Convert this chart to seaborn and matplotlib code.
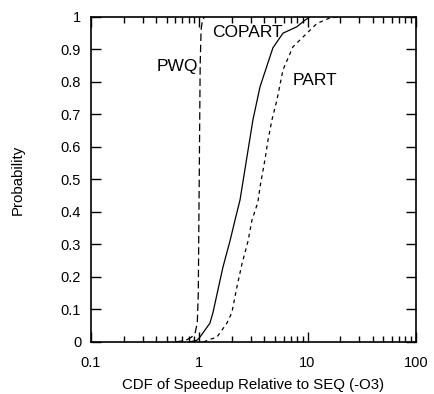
import matplotlib
matplotlib.use('Agg')
import matplotlib.pyplot as plt
import matplotlib.ticker as mticker
import seaborn as sns

# CDF points (speedup, cumulative probability)
pwq_x = [0.6, 0.75, 0.85, 0.92, 0.96, 0.98, 1.0, 1.02, 1.04, 1.07, 1.12]
pwq_p = [0.0, 0.005, 0.015, 0.03, 0.06, 0.15, 0.5, 0.85, 0.96, 0.99, 1.0]

copart_x = [0.8, 0.95, 1.015, 1.255, 1.338, 1.655, 1.92, 2.14, 2.38, 3.13, 3.64, 4.79, 5.93, 7.98, 9.46, 10.5]
copart_p = [0.0, 0.005, 0.015, 0.058, 0.09, 0.23, 0.31, 0.375, 0.437, 0.683, 0.785, 0.905, 0.95, 0.97, 0.99, 1.0]

part_x = [1.1, 1.203, 1.457, 1.80, 2.0, 2.23, 2.48, 2.82, 3.07, 3.48, 3.64, 4.04, 4.31, 4.69, 5.22, 5.93, 7.33, 9.87, 12.2, 16.1, 19.9]
part_p = [0.0, 0.006, 0.015, 0.058, 0.09, 0.17, 0.24, 0.31, 0.375, 0.43, 0.477, 0.56, 0.62, 0.683, 0.745, 0.837, 0.908, 0.95, 0.98, 0.997, 1.0]

x_ticks = [0.1, 1, 10, 100]
x_labels = ['0.1', '1', '10', '100']
y_ticks = [0, 0.1, 0.2, 0.3, 0.4, 0.5, 0.6, 0.7, 0.8, 0.9, 1]
y_labels = ['0', '0.1', '0.2', '0.3', '0.4', '0.5', '0.6', '0.7', '0.8', '0.9', '1']

sns.set_style('ticks')
plt.rcParams['font.family'] = ['Liberation Sans', 'DejaVu Sans']
plt.rcParams['text.color'] = 'black'
plt.rcParams['axes.labelcolor'] = 'black'

fig = plt.figure(figsize=(4.35, 3.94), dpi=100)
ax = fig.add_axes([0.209, 0.132, 0.747, 0.825])

sns.lineplot(x=pwq_x, y=pwq_p, ax=ax, color='black', linewidth=0.9)
ax.lines[-1].set_dashes([6, 3])
sns.lineplot(x=copart_x, y=copart_p, ax=ax, color='black', linewidth=0.9)
sns.lineplot(x=part_x, y=part_p, ax=ax, color='black', linewidth=0.9)
ax.lines[-1].set_dashes([3, 3])

ax.set_xscale('log')
ax.set_xlim(0.1, 100)
ax.set_ylim(0, 1)
ax.set_xticks(x_ticks)
ax.set_xticklabels(x_labels)
ax.xaxis.set_minor_locator(mticker.LogLocator(base=10, subs=range(2, 10)))
ax.xaxis.set_minor_formatter(mticker.NullFormatter())
ax.set_yticks(y_ticks)
ax.set_yticklabels(y_labels)

ax.tick_params(which='both', direction='in', top=True, right=True, labelsize=10.5, width=1, colors='black')
ax.tick_params(which='major', length=7)
ax.tick_params(axis='x', which='major', pad=10)
ax.tick_params(axis='y', which='major', pad=7)
ax.tick_params(which='minor', length=4)
for s in ax.spines.values():
    s.set_linewidth(1.2)
    s.set_color('black')

ax.text(2.76, 0.951, 'COPART', ha='center', va='center', fontsize=12.5, color='black')
ax.text(0.622, 0.846, 'PWQ', ha='center', va='center', fontsize=12.5, color='black')
ax.text(11.7, 0.803, 'PART', ha='center', va='center', fontsize=12.5, color='black')

ax.set_xlabel('CDF of Speedup Relative to SEQ (-O3)', fontsize=10.8, labelpad=6, color='black')
ax.set_ylabel('Probability', fontsize=10.8, labelpad=26, color='black')

fig.savefig('out.png', dpi=100)
